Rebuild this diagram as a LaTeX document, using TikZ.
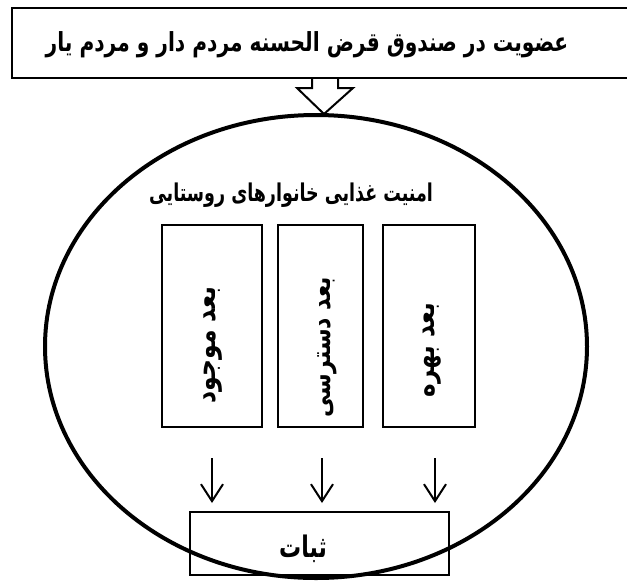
\documentclass[tikz,border=0pt]{standalone}
\usepackage{fontspec}
\TeXXeTstate=1
\newfontfamily\arabicfont[Script=Arabic]{DejaVu Sans}
\usetikzlibrary{arrows.meta,shapes.geometric}
\tikzset{
  thinbox/.style={draw, line width=2pt, rectangle, inner sep=0pt},
  fatext/.style={font=\arabicfont\bfseries, inner sep=0pt},
  downarr/.style={line width=2pt, -{Straight Barb[length=17pt,width=22pt,line width=2pt]}, shorten >=8pt},
}
\begin{document}
\begin{tikzpicture}[x=1pt,y=-1pt]
\useasboundingbox (0,0) rectangle (627,582);
% top box
\node[thinbox, minimum width=628pt, minimum height=70pt] (topbox) at (326,43) {};
\node[fatext, font=\arabicfont\bfseries\fontsize{20.2}{24}\selectfont] (toptext) at (307,45) {\scalebox{1}[1.3]{\beginR عضویت در صندوق قرض الحسنه مردم دار و مردم یار\endR}};
% block arrow
\coordinate (sL) at (312,78);
\coordinate (sR) at (338,78);
\coordinate (hL) at (297,88);
\coordinate (hR) at (353,88);
\coordinate (tip) at (324,114);
\fill[white] ([yshift=-2pt]sL) -- (sL |- hL) -- (hL) -- (tip) -- (hR) -- (sR |- hR) -- ([yshift=-2pt]sR) -- cycle;
\draw[line width=2pt, line join=miter] (sL) -- (sL |- hL) -- (hL) -- (tip) -- (hR) -- (sR |- hR) -- (sR);
% title
\node[fatext, font=\arabicfont\bfseries\fontsize{17.5}{21}\selectfont] (title) at (291,195) {\scalebox{1}[1.4]{\beginR امنیت غذایی خانوارهای روستایی\endR}};
% three dimension boxes
\node[thinbox, minimum width=100pt, minimum height=202pt] (b1) at (212,326) {};
\node[thinbox, minimum width=85pt, minimum height=202pt] (b2) at (320.5,326) {};
\node[thinbox, minimum width=92pt, minimum height=202pt] (b3) at (429,326) {};
\node[fatext, rotate=90, font=\arabicfont\bfseries\fontsize{23.5}{28}\selectfont] (t1) at (213,345) {\scalebox{1}[1.2]{\beginR بعد موجود\endR}};
\node[fatext, rotate=90, font=\arabicfont\bfseries\fontsize{22}{28}\selectfont] (t2) at (327,347) {\scalebox{1}[1.2]{\beginR بعد دسترسی\endR}};
\node[fatext, rotate=90, font=\arabicfont\bfseries\fontsize{23}{28}\selectfont] (t3) at (432,350) {\scalebox{1}[1.2]{\beginR بعد بهره\endR}};
% bottom box
\node[thinbox, minimum width=259pt, minimum height=63pt] (bot) at (319.5,543.5) {};
\node[fatext, font=\arabicfont\bfseries\fontsize{22}{26}\selectfont] (bottext) at (303,549) {\scalebox{1}[1.35]{\beginR ثبات\endR}};
% arrows
\coordinate (a1) at (212,458);
\coordinate (a2) at (322,458);
\coordinate (a3) at (435,458);
\draw[downarr] (a1) -- (a1 |- bot.north);
\draw[downarr] (a2) -- (a2 |- bot.north);
\draw[downarr] (a3) -- (a3 |- bot.north);
% ellipse
\node[draw, line width=4pt, ellipse, minimum width=542pt, minimum height=463pt, inner sep=0pt] (circ) at (316,346.5) {};
\end{tikzpicture}
\end{document}
